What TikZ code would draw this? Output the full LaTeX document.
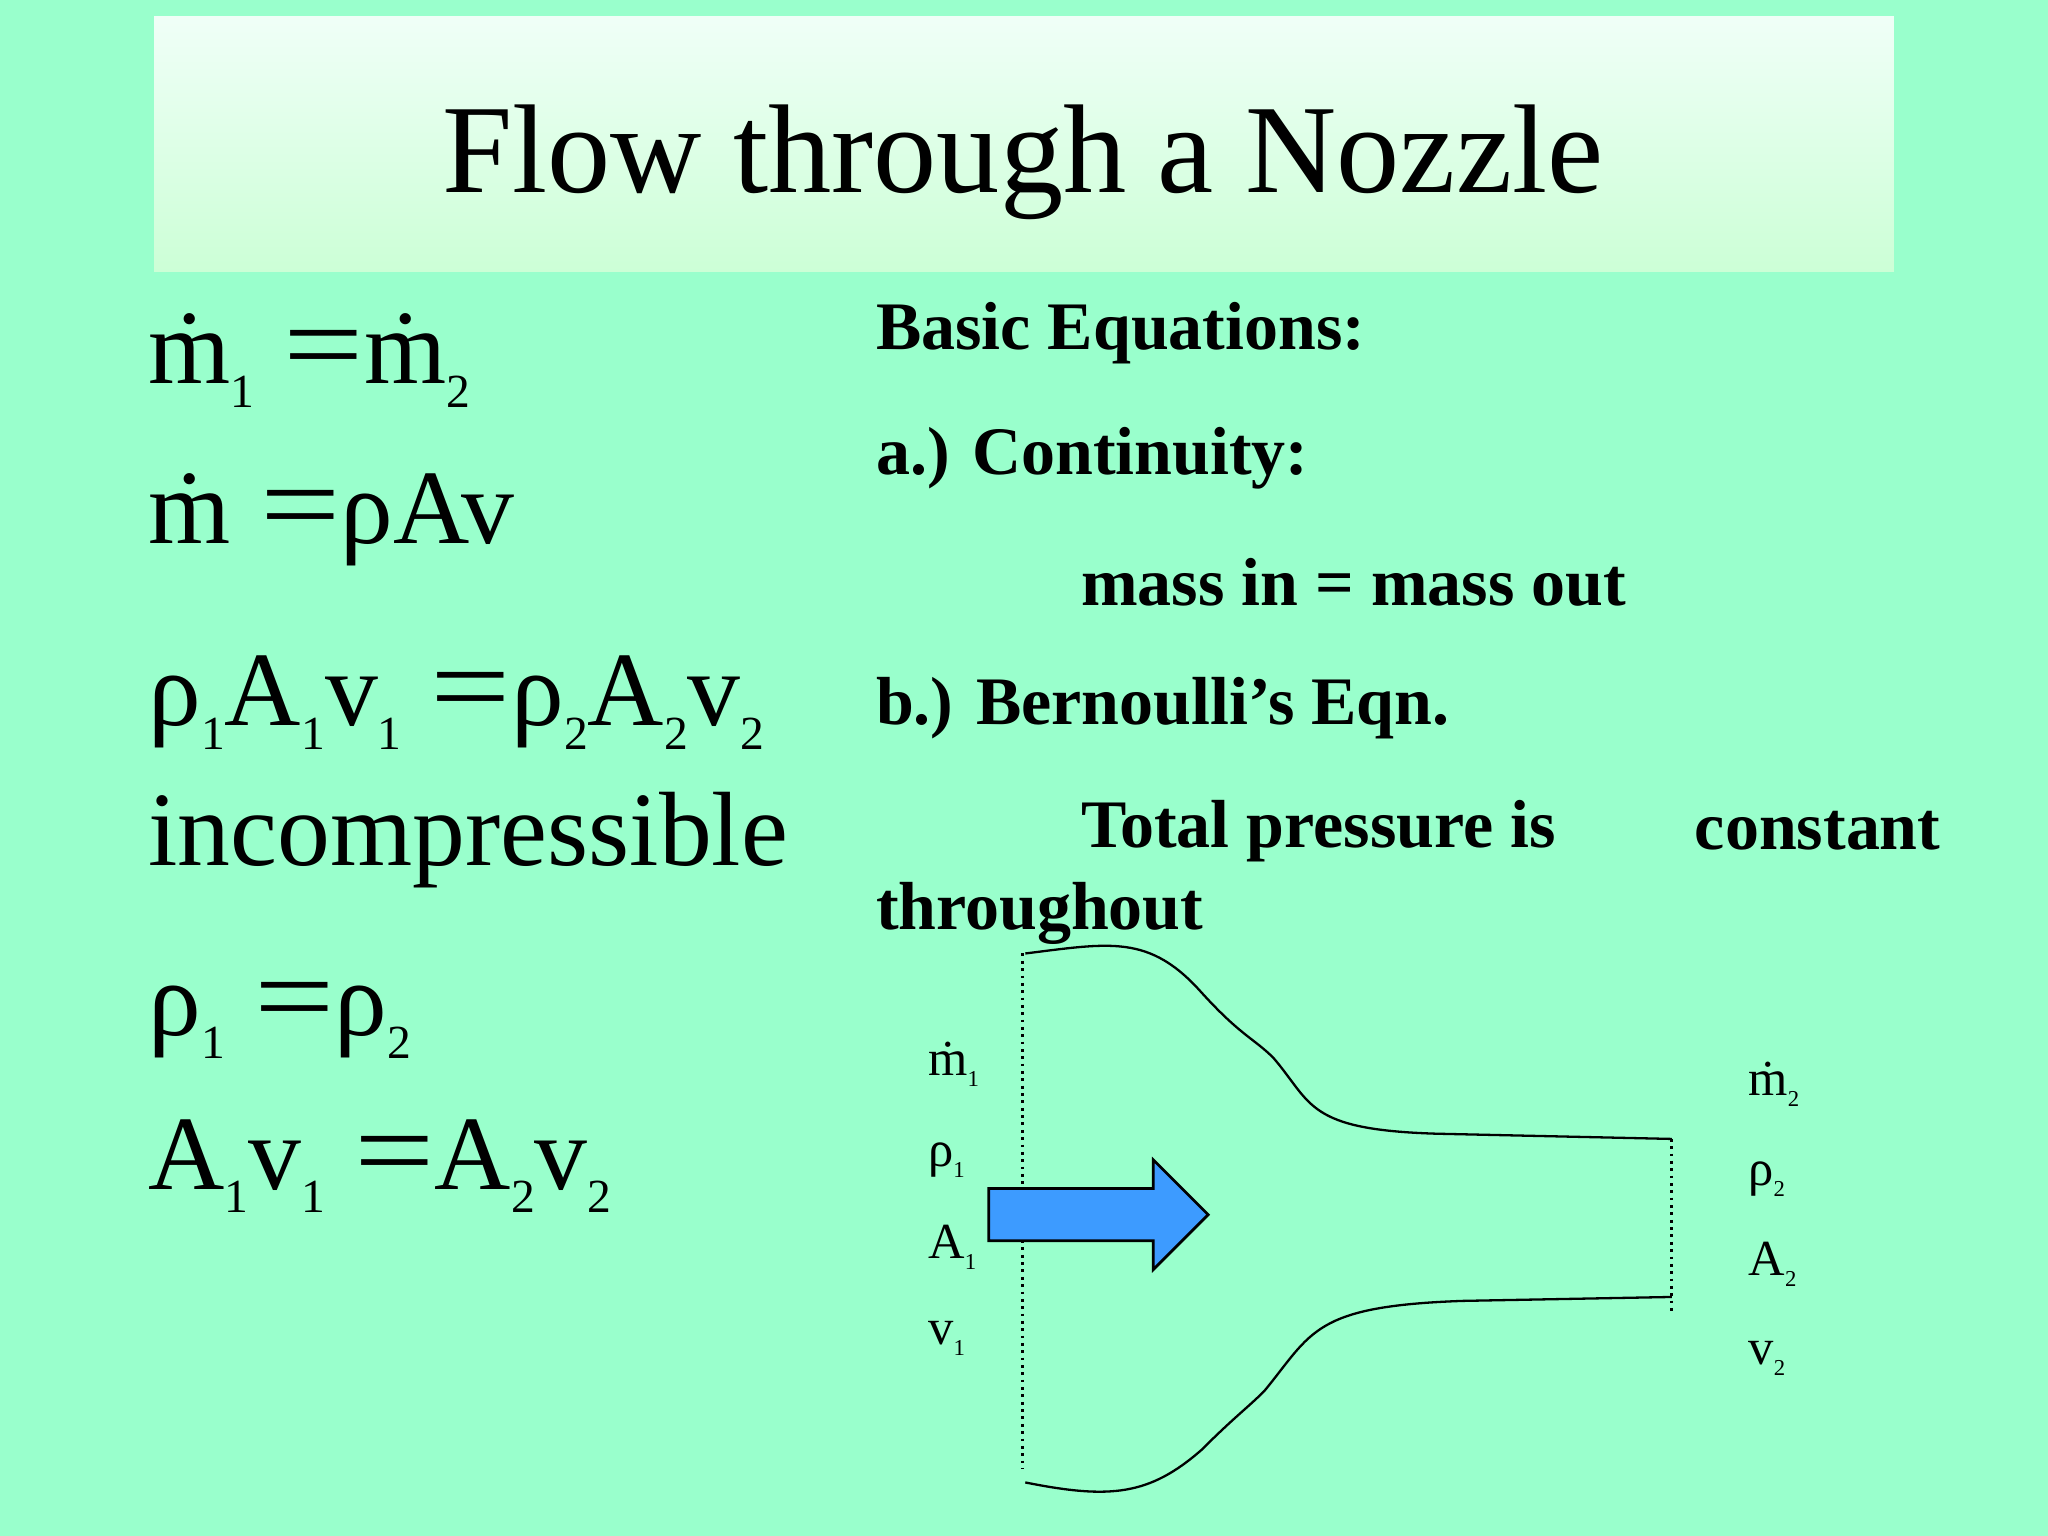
\documentclass[tikz,border=0pt]{standalone}
\usepackage{fontspec}
\setmainfont{Liberation Serif}
\newcommand{\lo}[1]{\raisebox{-0.22em}{\scalebox{0.45}{#1}}}
\newcommand{\eqs}{\;\scalebox{1.35}[1.1]{=}}
\begin{document}
\begin{tikzpicture}[x=0.01cm,y=-0.01cm,
  big/.style={anchor=west,inner sep=0,font=\fontsize{23}{25}\selectfont},
  bt/.style={anchor=west,inner sep=0,font=\fontsize{14.8}{16}\selectfont\bfseries},
  sm/.style={anchor=west,inner sep=0,font=\fontsize{11}{12}\selectfont},
  curve/.style={line width=0.5pt},
  dotl/.style={densely dotted,line width=0.6pt}]
\definecolor{bg}{HTML}{99FFCC}
\definecolor{arrowblue}{HTML}{3D9BFF}
\fill[bg] (0,0) rectangle (1568,1176);
\useasboundingbox (0,0) rectangle (1568,1176);
\shade[top color=white!85!bg, bottom color=green!15!white!80!bg] (118,13) rectangle (1450,208);
\node[inner sep=0,font=\fontsize{27.5}{30}\selectfont] (title) at (783,124) {Flow through a Nozzle};
% left equations
\node[big] (e1) at (113,276) {\.m\lo{1}\eqs\.m\lo{2}};
\node[big] (e2) at (113,398) {\.m\eqs ρAv};
\node[big] (e3) at (113,538) {ρ\lo{1}A\lo{1}v\lo{1}\eqs ρ\lo{2}A\lo{2}v\lo{2}};
\node[big] (e4) at (113,643) {incompressible};
\node[big] (e5) at (113,781) {ρ\lo{1}\eqs ρ\lo{2}};
\node[big] (e6) at (113,893) {A\lo{1}v\lo{1}\eqs A\lo{2}v\lo{2}};
% right text
\node[bt] (t1) at (670,255) {Basic Equations:};
\node[bt] (t2) at (670,351) {a.) Continuity:};
\node[bt] (t3) at (827,446) {mass in = mass out};
\node[bt] (t4) at (670,542) {b.) Bernoulli’s Eqn.};
\node[bt] (t5) at (827,636) {Total pressure is};
\node[bt] (t6) at (1297,636) {constant};
\node[bt] (t7) at (670,699) {throughout};
% nozzle
\draw[curve] (785,730) .. controls (850,722) and (880,715) .. (920,760) .. controls (950,793) and (960,795) .. (975,810) .. controls (1005,845) and (1000,865) .. (1100,868) -- (1280,872);
\draw[curve] (785,1135) .. controls (850,1148) and (880,1145) .. (920,1110) .. controls (945,1085) and (955,1078) .. (968,1065) .. controls (1005,1020) and (1005,1000) .. (1120,996) -- (1280,993);
\coordinate (a1) at (783,730); \coordinate (a2) at (783,1125);
\coordinate (b1) at (1280,872); \coordinate (b2) at (1280,1005);
\draw[dotl] (a1) -- (a2);
\draw[dotl] (b1) -- (b2);
\draw[fill=arrowblue,line width=0.6pt] (757,910) -- (883,910) -- (883,888) -- (925,930) -- (883,972) -- (883,950) -- (757,950) -- cycle;
% labels
\node[sm] (l1) at (710,815) {\.m\lo{1}};
\node[sm] (l2) at (710,888) {ρ\lo{1}};
\node[sm] (l3) at (710,955) {A\lo{1}};
\node[sm] (l4) at (710,1025) {v\lo{1}};
\node[sm] (r1) at (1338,830) {\.m\lo{2}};
\node[sm] (r2) at (1338,903) {ρ\lo{2}};
\node[sm] (r3) at (1338,968) {A\lo{2}};
\node[sm] (r4) at (1338,1040) {v\lo{2}};
\end{tikzpicture}
\end{document}
